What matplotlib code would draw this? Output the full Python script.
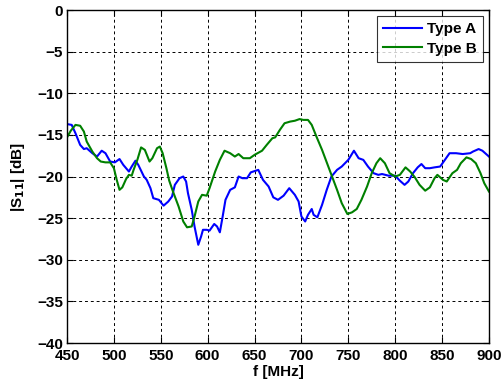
import matplotlib
matplotlib.use("Agg")
import matplotlib.pyplot as plt

plt.rcParams['font.family'] = ['Liberation Sans', 'DejaVu Sans']
plt.rcParams['font.weight'] = 'bold'
plt.rcParams['mathtext.default'] = 'bf'

# Type A (blue)
freq_a = [450, 455, 459, 464, 468, 471, 477, 482, 487, 491, 496, 501, 506, 510,
          516, 519, 523, 526, 532, 535, 539, 542, 548, 553, 558, 562, 565, 570,
          574, 577, 579, 583, 586, 590, 593, 595, 599, 602, 607, 610, 613, 616,
          619, 624, 629, 633, 637, 642, 646, 654, 659, 665, 670, 675, 681, 687,
          693, 697, 700, 704, 707, 711, 713, 717, 722, 727, 732, 738, 743, 750,
          756, 761, 766, 771, 777, 782, 786, 793, 800, 805, 810, 814, 819, 824,
          828, 832, 837, 842, 848, 853, 858, 865, 872, 880, 883, 889, 893, 900]
s11_a = [-13.7, -13.8, -14.8, -16.2, -16.7, -16.6, -17.2, -17.6, -16.9, -17.2,
         -18.2, -18.3, -17.9, -18.6, -19.4, -18.8, -18.1, -18.6, -20.0, -20.4,
         -21.4, -22.6, -22.8, -23.5, -23.0, -22.4, -21.0, -20.2, -20.0, -20.6,
         -22.0, -24.0, -26.0, -28.2, -27.2, -26.4, -26.4, -26.5, -25.7, -26.0,
         -26.7, -24.8, -22.8, -21.6, -21.3, -20.0, -20.2, -20.2, -19.5, -19.2,
         -20.4, -21.2, -22.5, -22.8, -22.3, -21.4, -22.2, -23.0, -24.8, -25.4,
         -24.6, -23.9, -24.6, -24.9, -23.4, -21.6, -20.0, -19.2, -18.8, -18.0,
         -16.9, -17.8, -18.0, -18.8, -19.6, -19.8, -19.7, -19.9, -19.9, -20.5,
         -21.0, -20.6, -19.6, -18.9, -18.5, -19.0, -19.0, -18.9, -18.8, -18.0,
         -17.2, -17.2, -17.3, -17.2, -17.0, -16.7, -16.9, -17.6]

# Type B (green)
freq_b = [450, 454, 459, 464, 468, 471, 477, 482, 486, 491, 496, 500, 503, 506,
          509, 513, 516, 519, 521, 525, 529, 533, 538, 541, 546, 549, 552, 556,
          559, 563, 569, 574, 578, 583, 586, 590, 594, 599, 602, 608, 613, 618,
          624, 629, 633, 638, 645, 650, 658, 663, 669, 672, 677, 682, 688, 693,
          698, 702, 707, 711, 716, 722, 727, 732, 738, 743, 749, 754, 759, 764,
          770, 775, 780, 784, 789, 794, 800, 805, 811, 816, 821, 826, 832, 837,
          842, 845, 851, 855, 861, 866, 870, 876, 881, 886, 891, 895, 900]
s11_b = [-15.3, -14.5, -13.8, -13.9, -14.6, -15.8, -17.0, -17.8, -18.2, -18.3,
         -18.3, -19.0, -20.4, -21.6, -21.3, -20.3, -19.8, -19.9, -19.2, -18.0,
         -16.5, -16.8, -18.2, -17.8, -16.6, -16.4, -17.2, -19.0, -20.5, -21.8,
         -23.6, -25.4, -26.1, -26.0, -24.8, -23.0, -22.2, -22.3, -21.4, -19.4,
         -18.0, -16.9, -17.2, -17.6, -17.3, -17.8, -17.8, -17.4, -16.9, -16.2,
         -15.4, -15.3, -14.4, -13.6, -13.4, -13.3, -13.1, -13.2, -13.2, -13.8,
         -15.2, -16.8, -18.3, -19.8, -21.6, -23.2, -24.5, -24.3, -23.9, -22.8,
         -21.2, -19.6, -18.4, -17.8, -18.4, -19.6, -20.0, -19.8, -18.9, -19.4,
         -20.1, -21.0, -21.7, -21.3, -20.2, -19.8, -20.4, -20.6, -19.6, -19.2,
         -18.4, -17.7, -17.9, -18.4, -19.6, -20.8, -21.8]

fig = plt.figure(figsize=(5.02, 3.85), dpi=100)
ax = fig.add_axes([0.1335, 0.109, 0.8405, 0.865])

ax.plot(freq_a, s11_a, color='#0000FF', lw=1.5, label='Type A')
ax.plot(freq_b, s11_b, color='#008000', lw=1.5, label='Type B')

ax.set_xlim(450, 900)
ax.set_ylim(-40, 0)
ax.set_xticks(range(450, 901, 50))
ax.set_yticks(range(-40, 1, 5))
ax.grid(True, color='black', linestyle=(0, (3, 3)), linewidth=0.7)
ax.tick_params(direction='in', top=True, right=True, labelsize=11, length=4)
ax.tick_params(axis='x', pad=4)
ax.tick_params(axis='y', pad=3)
for lbl in ax.get_xticklabels() + ax.get_yticklabels():
    lbl.set_fontweight('bold')
for sp in ax.spines.values():
    sp.set_linewidth(1.0)

ax.set_xlabel('f [MHz]', fontsize=11, fontweight='bold', labelpad=2)
ax.set_ylabel('|S$_{11}$| [dB]', fontsize=11, fontweight='bold', labelpad=7)

leg = ax.legend(loc='upper right', fontsize=11, frameon=True, fancybox=False,
                borderaxespad=0.4, handlelength=2.6, handletextpad=0.3,
                labelspacing=0.35, borderpad=0.4)
leg.get_frame().set_edgecolor('black')
leg.get_frame().set_linewidth(0.8)
for t in leg.get_texts():
    t.set_fontweight('bold')

fig.savefig('out.png', dpi=100)
